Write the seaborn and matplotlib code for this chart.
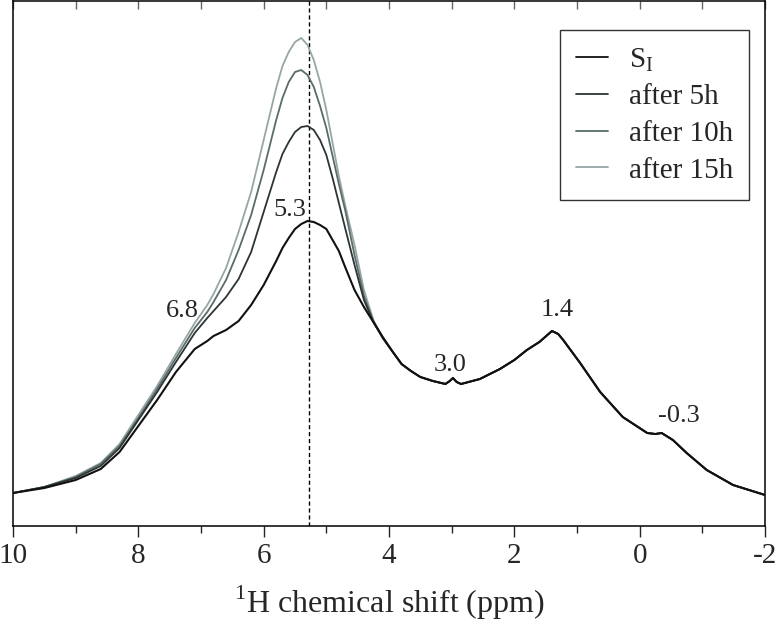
import numpy as np
import pandas as pd
import matplotlib
matplotlib.use("Agg")
import matplotlib.pyplot as plt
import seaborn as sns
from matplotlib.ticker import MultipleLocator

# 1H NMR spectra, intensity in arbitrary units
ppm_peak = [10.0, 9.5, 9.0, 8.6, 8.3, 8.0, 7.7, 7.4, 7.1, 6.9, 6.8, 6.6, 6.4, 6.2,
            6.0, 5.8, 5.7, 5.6, 5.5, 5.4, 5.3, 5.2, 5.1, 5.0, 4.9, 4.8, 4.7, 4.55,
            4.4, 4.25, 4.1, 3.95]
si_peak = [33, 38, 46, 57, 74, 100, 126, 154, 177, 185, 190, 196, 205, 221,
           241, 265, 278, 288, 297, 302, 305, 304, 301, 297, 286, 275, 259, 236,
           219, 204, 189, 175]
h5_peak = [33, 39, 48, 60, 78, 106, 134, 164, 193, 208, 215, 229, 247, 274,
           314, 354, 372, 384, 394, 399, 400, 396, 386, 371, 348, 323, 298, 261,
           226, 204, 188, 175]
h10_peak = [33, 39, 49, 62, 80, 108, 137, 168, 198, 214, 224, 246, 276, 311,
            356, 406, 428, 444, 454, 456, 451, 439, 420, 398, 370, 342, 316, 271,
            230, 205, 188, 175]
h15_peak = [33, 39, 50, 63, 82, 111, 140, 172, 203, 221, 232, 258, 294, 334,
            386, 438, 460, 474, 484, 488, 481, 466, 444, 416, 383, 350, 321, 281,
            236, 206, 188, 175]

# below ~3.9 ppm the four spectra lie on top of each other
ppm_tail = [3.8, 3.65, 3.5, 3.3, 3.1, 3.03, 2.98, 2.92, 2.85, 2.55, 2.23, 2.0, 1.8,
            1.6, 1.4, 1.3, 1.22, 0.95, 0.63, 0.27, -0.12, -0.25, -0.35, -0.53,
            -0.75, -1.07, -1.49, -2.0]
tail = [162, 155, 149, 145, 142, 145, 148, 144, 142, 147, 157, 166, 176,
        184, 195, 192, 186, 163, 134, 109, 93, 92, 93, 86, 73, 56, 41, 31]

labels = ["S$_\\mathrm{I}$", "after 5h", "after 10h", "after 15h"]
colors = ["#111111", "#2c3434", "#596b6a", "#97a6a5"]

peak_pos = 5.28
peak_text = ["6.8", "5.3", "3.0", "1.4", "-0.3"]
peak_text_x = [7.29, 5.58, 3.03, 1.32, -0.63]
peak_text_y = [215, 316, 161, 216, 110]

frames = []
for lab, vals in zip(labels, [si_peak, h5_peak, h10_peak, h15_peak]):
    frames.append(pd.DataFrame({"ppm": ppm_peak + ppm_tail,
                                "intensity": vals + tail,
                                "sample": lab}))
df = pd.concat(frames, ignore_index=True)

sns.set_style("ticks")
plt.rcParams["font.family"] = ["Liberation Serif", "DejaVu Serif"]
plt.rcParams["mathtext.fontset"] = "custom"
plt.rcParams["mathtext.rm"] = "Liberation Serif"
plt.rcParams["axes.unicode_minus"] = False

fig = plt.figure(figsize=(7.8, 6.34), dpi=100)
ax = fig.add_axes([13 / 780, 108 / 634, 752 / 780, 525 / 634])

sns.lineplot(data=df, x="ppm", y="intensity", hue="sample", hue_order=labels,
             palette=colors, estimator=None, sort=False, lw=1.3, legend=False, ax=ax)
spectra = list(ax.lines)
for i, line in enumerate(spectra):
    line.set_zorder(10 - i)
    line.set_solid_joinstyle("round")
spectra[0].set_linewidth(1.5)

ax.axvline(peak_pos, color="black", ls=(0, (3, 2)), lw=1.0, zorder=2)

for t, x, y in zip(peak_text, peak_text_x, peak_text_y):
    ax.text(x, y, t, ha="center", va="center", fontsize=19)

ax.set_xlim(10, -2)
ax.set_ylim(0, 525)
ax.set_yticks([])
ax.set_ylabel("")
ax.xaxis.set_major_locator(MultipleLocator(2))
ax.xaxis.set_minor_locator(MultipleLocator(1))
ax.tick_params(axis="x", which="major", direction="out", length=8, width=1,
               labelsize=21, pad=4, top=False)
ax.tick_params(axis="x", which="minor", direction="out", length=5, width=1, top=False)
# small inward ticks along the top frame
top = ax.secondary_xaxis("top")
top.xaxis.set_major_locator(MultipleLocator(1))
top.tick_params(axis="x", direction="in", length=6, width=1, color="#666666",
                labeltop=False)
top.spines["top"].set_visible(False)

ax.set_xlabel("$^{1}$H chemical shift (ppm)", fontsize=23, labelpad=11)
for s in ax.spines.values():
    s.set_color("black")
    s.set_linewidth(1.1)

leg = ax.legend(spectra, labels, loc="upper right", bbox_to_anchor=(0.979, 0.945),
                borderaxespad=0, fontsize=21, frameon=True, fancybox=False,
                edgecolor="black", handlelength=1.1, handletextpad=0.7,
                labelspacing=0.35, borderpad=0.55)
leg.get_frame().set_linewidth(1.0)
for h in leg.get_lines():
    h.set_linewidth(1.3)

fig.savefig("out.png", dpi=100)
